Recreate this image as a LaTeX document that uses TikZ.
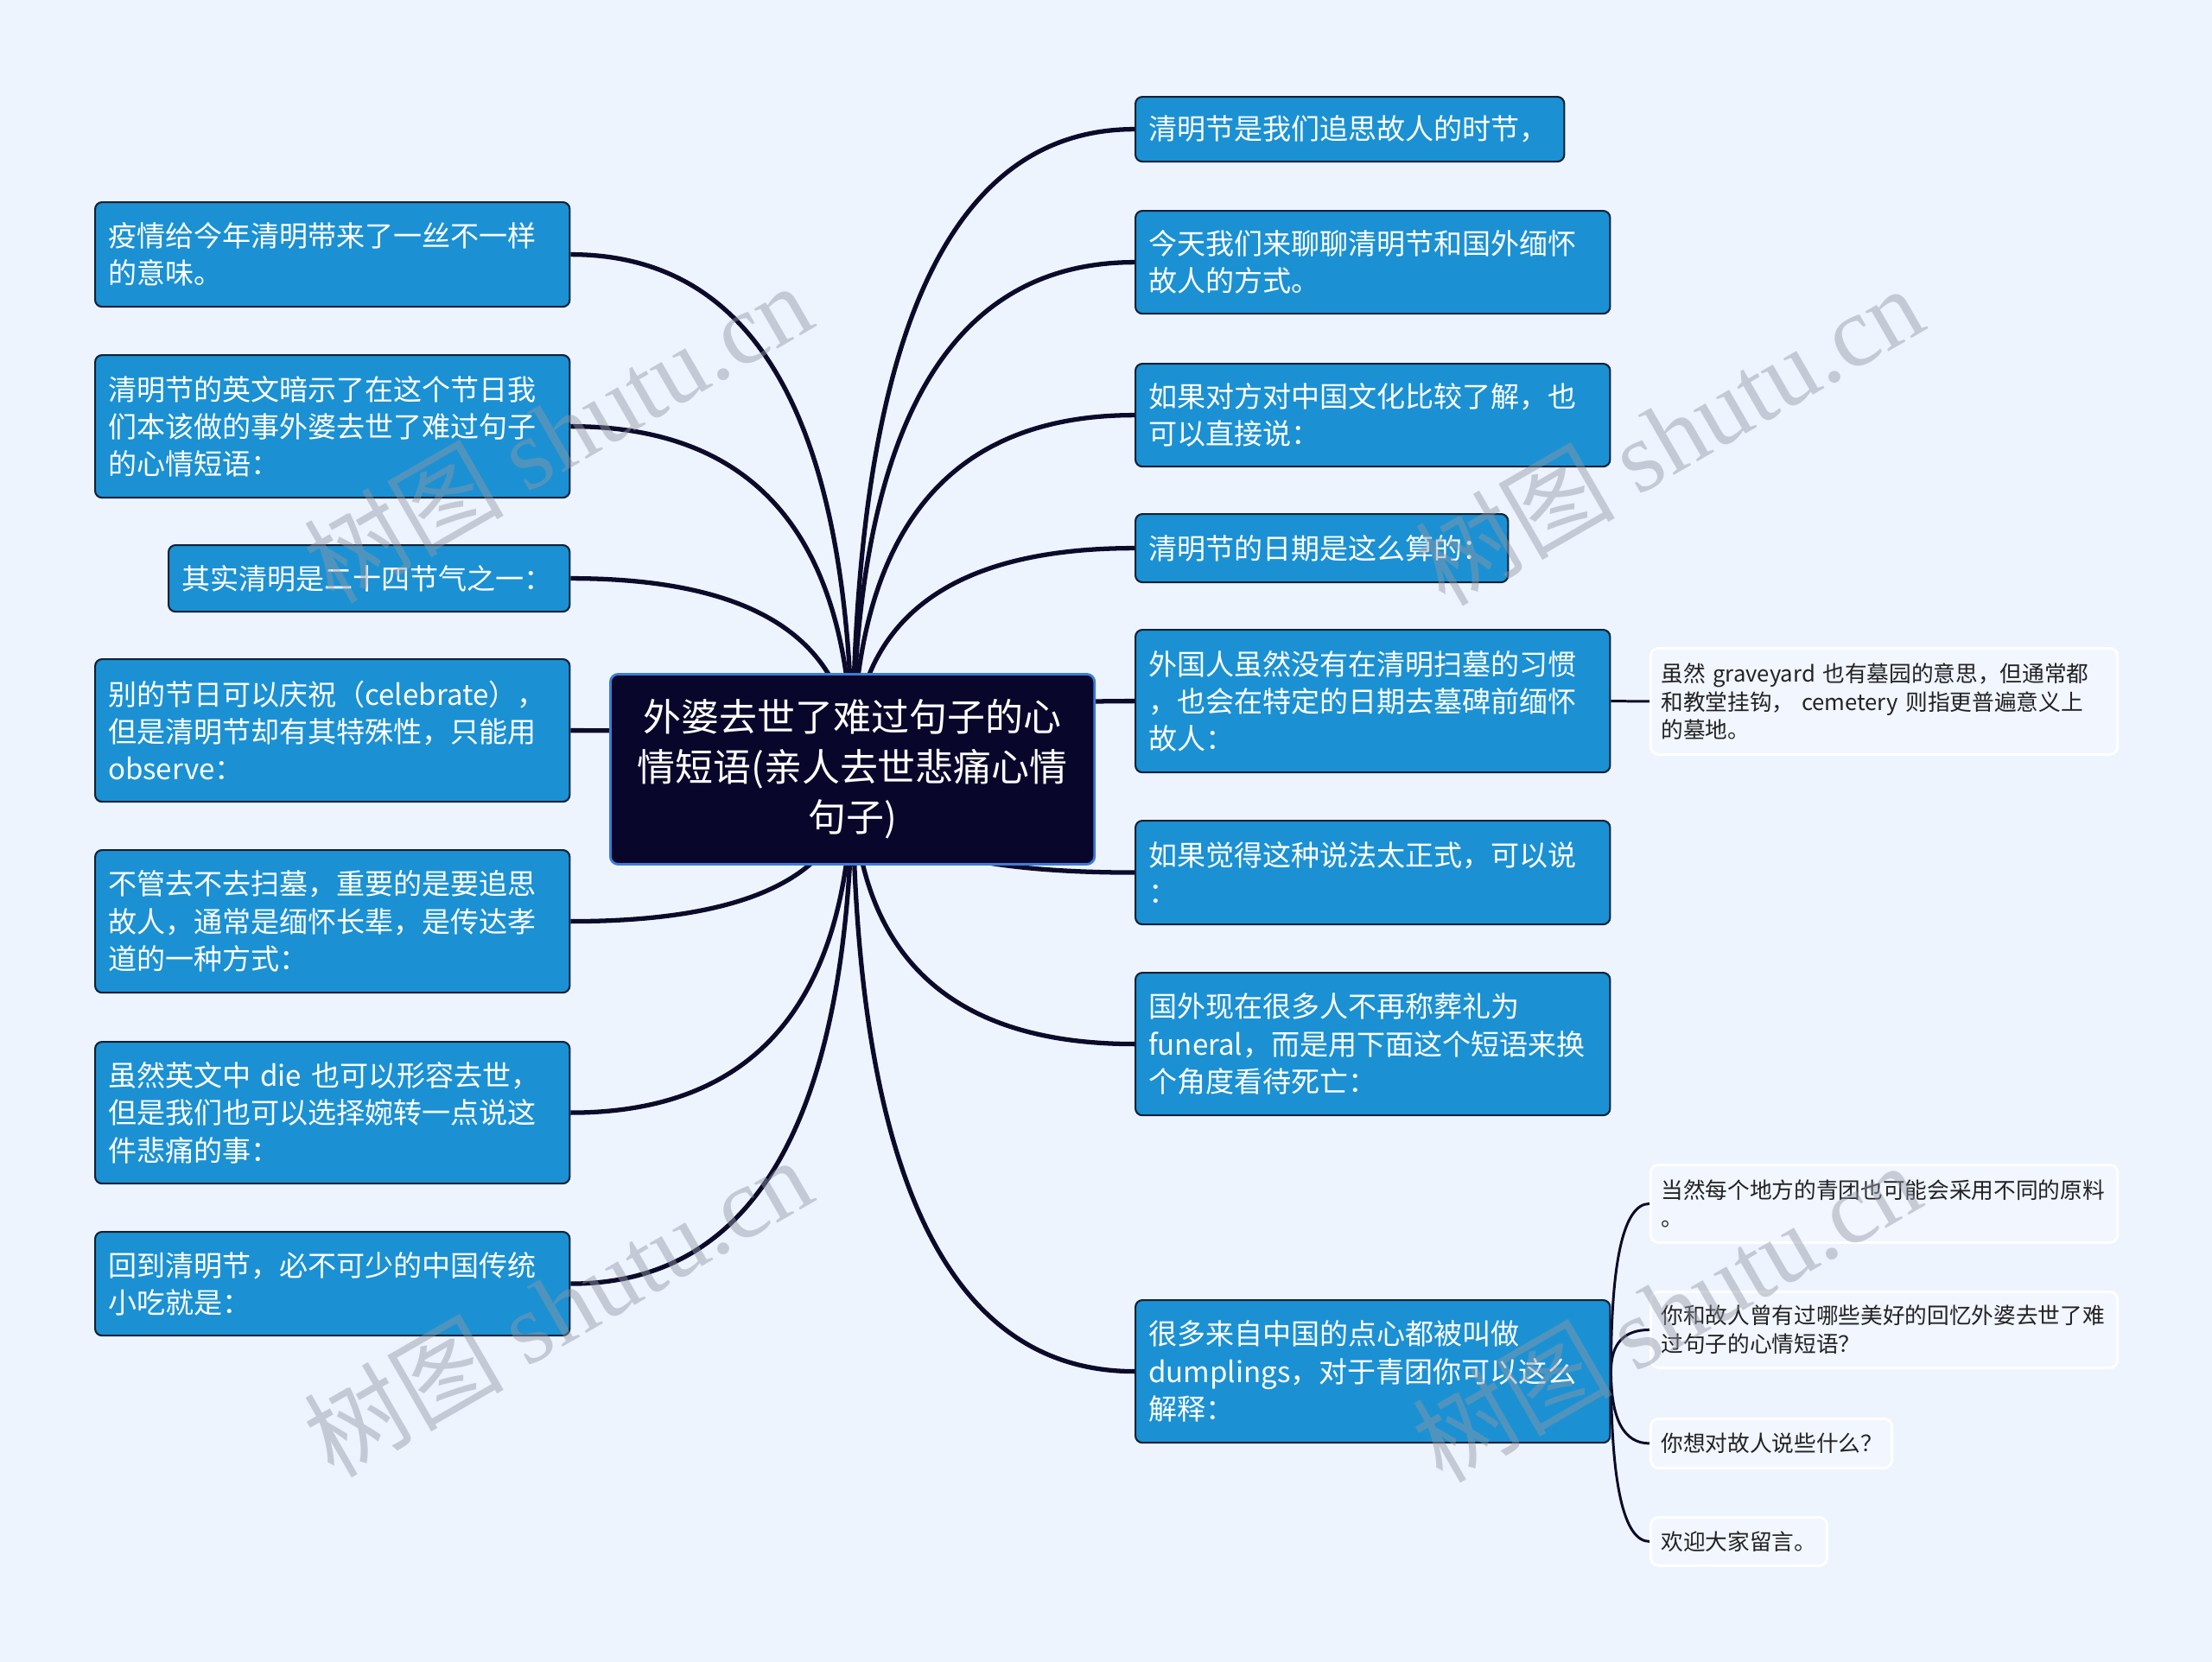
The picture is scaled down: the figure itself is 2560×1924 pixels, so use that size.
\documentclass[tikz,border=0pt]{standalone}
\usepackage{fontspec}
\setmainfont{Noto Sans CJK SC}
\newfontfamily\wmfont{Liberation Serif}
\usetikzlibrary{calc,positioning}
\definecolor{bgblue}{HTML}{EEF4FE}
\definecolor{leafbg}{HTML}{F1F6FF}
\definecolor{topicblue}{HTML}{1B91D3}
\definecolor{topicline}{HTML}{0F2238}
\definecolor{rootfill}{HTML}{08072B}
\definecolor{rootline}{HTML}{3C7CD6}
\definecolor{linkcol}{HTML}{0C0A2A}
\definecolor{leaftext}{HTML}{222222}
\definecolor{wmgray}{HTML}{9298A4}
\pgfdeclarelayer{back}
\pgfdeclarelayer{links}
\pgfsetlayers{back,links,main}
% branch curve: leaves its start vertically, reaches its end horizontally
\newcommand\mmlink[3][]{%
 \draw[#1] (#2) .. controls ($(#2)!.667!(#2 |- #3)$) and ($(#3)!.667!(#2 |- #3)$) .. (#3);}

\begin{document}
\begin{tikzpicture}[x=0.01cm,y=-0.01cm,
 topic/.style={draw=topicline,line width=.6pt,fill=topicblue,rounded corners=2.3pt,text=white,
  anchor=north west,align=left,inner xsep=.15cm,inner ysep=0pt,text width=5.19cm,
  font=\fontsize{9.4}{12.3}\selectfont},
 root/.style={draw=rootline,line width=.8pt,fill=rootfill,rounded corners=2.6pt,text=white,
  anchor=north west,align=center,inner sep=0pt,text width=5.6cm,minimum height=2.2cm,
  font=\fontsize{12.5}{16.5}\selectfont},
 leaf/.style={draw=white,line width=.8pt,fill=leafbg,rounded corners=2.6pt,text=leaftext,
  anchor=north west,align=left,inner xsep=.12cm,inner ysep=0pt,text width=5.16cm,
  font=\fontsize{7.3}{9.3}\selectfont},
 link/.style={draw=linkcol,line width=1.5pt},
 leaflink/.style={draw=linkcol,line width=.85pt},
 wmark/.style={rotate=30,text=wmgray,opacity=.45,font=\fontsize{33}{33}\selectfont}]

\begin{pgfonlayer}{back}
\fill[bgblue] (0,0) rectangle (2560,1924);
\end{pgfonlayer}
\useasboundingbox (0,0) rectangle (2560,1924);

% central topic
\node[root] (root) at (705,779) {外婆去世了难过句子的心\\情短语(亲人去世悲痛心情\\句子)};

% left branches
\node[topic,minimum height=1.21cm] (l1) at (109,233) {疫情给今年清明带来了一丝不一样\\的意味。};
\node[topic,minimum height=1.65cm] (l2) at (109,410) {清明节的英文暗示了在这个节日我\\们本该做的事外婆去世了难过句子\\的心情短语：};
\node[topic,minimum height=.77cm,text width=4.34cm] (l3) at (194,630) {其实清明是二十四节气之一：};
\node[topic,minimum height=1.65cm] (l4) at (109,762) {别的节日可以庆祝（celebrate），\\但是清明节却有其特殊性，只能用\\observe：};
\node[topic,minimum height=1.65cm] (l5) at (109,983) {不管去不去扫墓，重要的是要追思\\故人，通常是缅怀长辈，是传达孝\\道的一种方式：};
\node[topic,minimum height=1.64cm] (l6) at (109,1205) {虽然英文中 die 也可以形容去世，\\但是我们也可以选择婉转一点说这\\件悲痛的事：};
\node[topic,minimum height=1.2cm] (l7) at (109,1425) {回到清明节，必不可少的中国传统\\小吃就是：};

% right branches
\node[topic,minimum height=.75cm,text width=4.66cm] (r1) at (1313,111) {清明节是我们追思故人的时节，};
\node[topic,minimum height=1.19cm] (r2) at (1313,243) {今天我们来聊聊清明节和国外缅怀\\故人的方式。};
\node[topic,minimum height=1.19cm] (r3) at (1313,420) {如果对方对中国文化比较了解，也\\可以直接说：};
\node[topic,minimum height=.79cm,text width=4.01cm] (r4) at (1313,594) {清明节的日期是这么算的：};
\node[topic,minimum height=1.65cm] (r5) at (1313,728) {外国人虽然没有在清明扫墓的习惯\\，也会在特定的日期去墓碑前缅怀\\故人：};
\node[topic,minimum height=1.2cm] (r6) at (1313,949) {如果觉得这种说法太正式，可以说\\：};
\node[topic,minimum height=1.65cm] (r7) at (1313,1125) {国外现在很多人不再称葬礼为\\funeral，而是用下面这个短语来换\\个角度看待死亡：};
\node[topic,minimum height=1.65cm] (r8) at (1313,1504) {很多来自中国的点心都被叫做\\dumplings，对于青团你可以这么\\解释：};

% leaves
\node[leaf,minimum height=1.23cm] (s1) at (1909,749) {虽然 graveyard 也有墓园的意思，但通常都\\和教堂挂钩， cemetery 则指更普遍意义上\\的墓地。};
\node[leaf,minimum height=.9cm] (s2) at (1909,1347) {当然每个地方的青团也可能会采用不同的原料\\。};
\node[leaf,minimum height=.88cm] (s3) at (1909,1494) {你和故人曾有过哪些美好的回忆外婆去世了难\\过句子的心情短语？};
\node[leaf,minimum height=.57cm,text width=2.55cm] (s4) at (1909,1641) {你想对故人说些什么？};
\node[leaf,minimum height=.56cm,text width=1.8cm] (s5) at (1909,1755) {欢迎大家留言。};

\begin{pgfonlayer}{links}
\foreach \i in {1,...,7}{\mmlink[link]{root.center}{l\i.east}}
\foreach \i in {1,...,8}{\mmlink[link]{root.center}{r\i.west}}
\draw[leaflink] (r5.east) -- (s1.west);
\foreach \i in {2,...,5}{\mmlink[leaflink]{r8.east}{s\i.west}}
\end{pgfonlayer}

% watermarks
\foreach \x/\y [count=\k] in {645/500,1931/503,645/1512,1928/1518}
 \node[wmark] (wm\k) at (\x,\y) {树图 {\wmfont shutu.cn}};
\end{tikzpicture}
\end{document}
